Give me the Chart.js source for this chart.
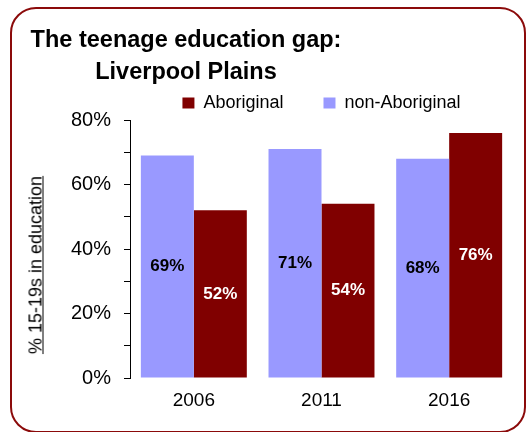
<!DOCTYPE html>
<html lang="en">
<head>
<meta charset="UTF-8">
<title>The teenage education gap</title>
<script src="https://cdn.jsdelivr.net/npm/chart.js@4"></script>
<style>
  html, body { margin: 0; padding: 0; background: #fff; }
  body { width: 531px; height: 432px; position: relative; overflow: hidden; font-family: "Liberation Sans", Arial, sans-serif; }
  #frame { position: absolute; left: 10px; top: 7px; width: 516px; height: 426px; border: 2.5px solid #8b0a0a; border-radius: 26px; box-sizing: border-box; }
  #title { position: absolute; left: 0; top: 23px; width: 372px; text-align: center; font-weight: bold; font-size: 23.5px; line-height: 32px; color: #000; }
  #ytitle { position: absolute; left: 36px; top: 265px; transform: translate(-50%, -50%) rotate(-90deg); white-space: nowrap; font-size: 18px; text-decoration: underline; color: #000; }
  #wrap { position: absolute; left: 0; top: 0; width: 531px; height: 432px; }
</style>
</head>
<body>
<div id="frame"></div>
<div id="wrap"><canvas id="chart" width="531" height="432"></canvas></div>
<div id="title">The teenage education gap:<br>Liverpool Plains</div>
<div id="ytitle">% 15-19s in education</div>
<script>
// values
const years = ['2006', '2011', '2016'];
const nonAboriginal = [69, 71, 68];
const aboriginal = [52, 54, 76];
const yTicks = [0, 20, 40, 60, 80];

const lavender = '#9999ff';
const maroon = '#800000';

// value labels in the middle of each bar
const barLabels = {
  id: 'barLabels',
  afterDatasetsDraw(chart) {
    const ctx = chart.ctx;
    ctx.save();
    ctx.font = 'bold 17px "Liberation Sans", Arial, sans-serif';
    ctx.textAlign = 'center';
    ctx.textBaseline = 'middle';
    chart.data.datasets.forEach((ds, i) => {
      const meta = chart.getDatasetMeta(i);
      ctx.fillStyle = ds.labelColor;
      meta.data.forEach((bar, j) => {
        ctx.fillText(ds.data[j] + '%', bar.x, (bar.y + bar.base) / 2);
      });
    });
    ctx.restore();
  }
};

new Chart(document.getElementById('chart'), {
  type: 'bar',
  data: {
    labels: years,
    datasets: [
      { label: 'non-Aboriginal', data: nonAboriginal, backgroundColor: lavender, labelColor: '#000' },
      { label: 'Aboriginal', data: aboriginal, backgroundColor: maroon, labelColor: '#fff' }
    ]
  },
  options: {
    responsive: false,
    animation: false,
    devicePixelRatio: 1,
    layout: { padding: { top: 54, right: 18, left: 0, bottom: 0 } },
    datasets: { bar: { barPercentage: 1, categoryPercentage: 0.83 } },
    plugins: {
      title: { display: false },
      tooltip: { enabled: false },
      legend: {
        position: 'top',
        fullSize: false,
        reverse: true,
        maxHeight: 66,
        labels: {
          boxWidth: 12,
          boxHeight: 11,
          padding: 40,
          color: '#000',
          font: { family: '"Liberation Sans Narrow", "Arial Narrow", "Liberation Sans", sans-serif', size: 18 }
        }
      }
    },
    scales: {
      x: {
        grid: { display: false },
        border: { display: false },
        ticks: { color: '#000', padding: 3, font: { family: '"Liberation Sans", Arial, sans-serif', size: 19 } },
        afterFit(scale) { scale.height = 54; }
      },
      y: {
        min: 0,
        max: 80,
        ticks: {
          stepSize: 10,
          color: '#000',
          padding: 13,
          font: { family: '"Liberation Sans", Arial, sans-serif', size: 20 },
          callback: v => yTicks.includes(v) ? v + '%' : ''
        },
        grid: { drawOnChartArea: false, drawTicks: true, tickLength: 6, color: '#000' },
        border: { display: true, color: '#000', width: 1 },
        afterFit(scale) { scale.width = 130; }
      }
    }
  },
  plugins: [barLabels]
});
</script>
</body>
</html>
